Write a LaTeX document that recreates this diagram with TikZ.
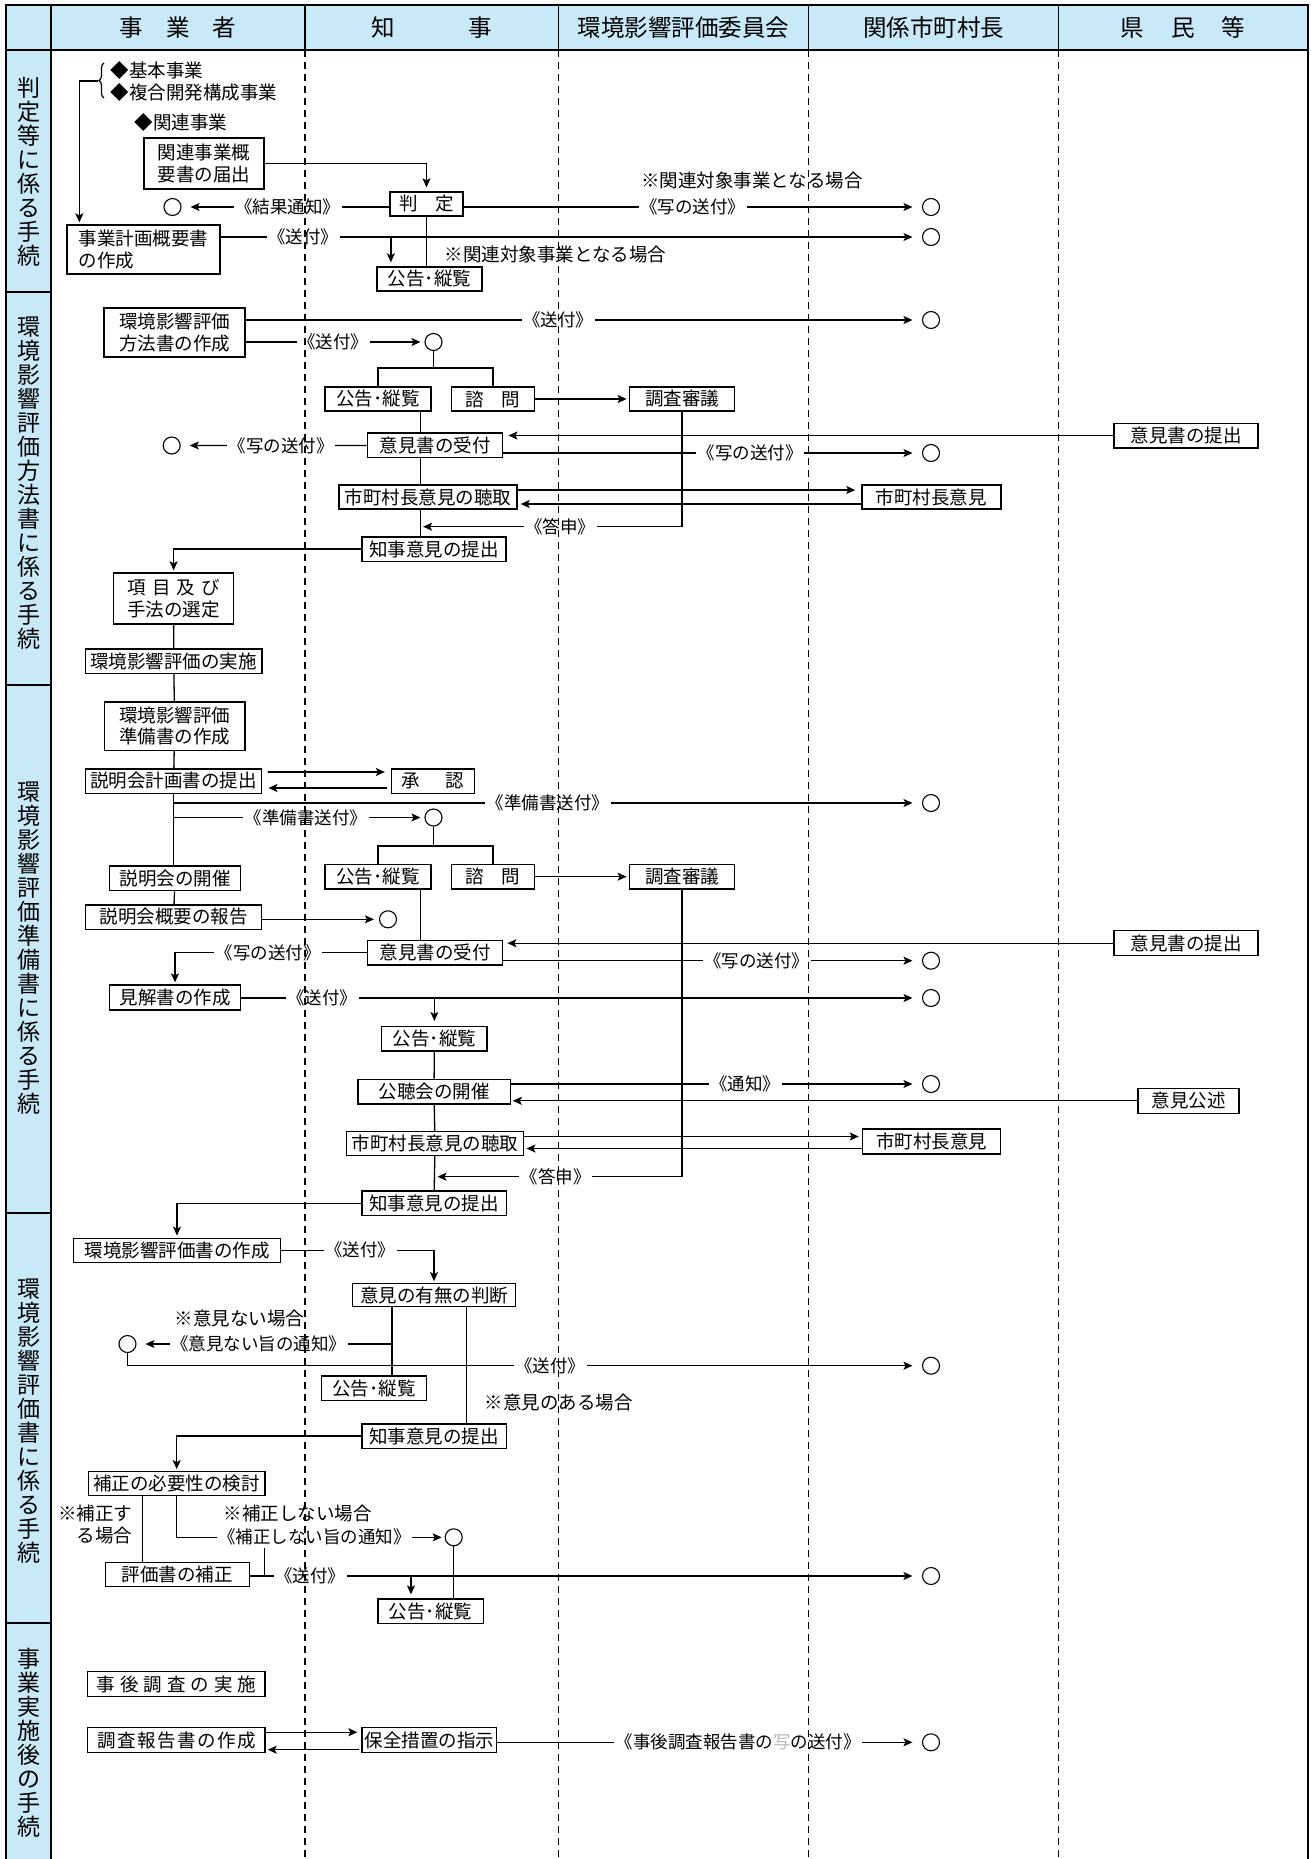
\documentclass[tikz,border=0pt]{standalone}
\usepackage{fontspec}
\setmainfont{Noto Sans CJK JP}
\usetikzlibrary{arrows.meta,calc,decorations.pathreplacing}
\definecolor{hdr}{RGB}{200,233,248}
\newcommand\hgap[1]{\hspace{#1pt}}
\begin{document}
\begin{tikzpicture}[x=1pt,y=-1pt,line width=1.3pt,
  bx/.style 2 args={draw,line width=1.3pt,fill=white,inner sep=0pt,align=center,
     font=\fontsize{18.5}{21.7}\selectfont,minimum width=#1pt,minimum height=#2pt},
  endc/.style={circle,draw,line width=1.1pt,minimum size=17pt,inner sep=0pt},
  arr/.style={-{Stealth[length=9pt,width=8pt,inset=2pt]},shorten >=#1},
  arr/.default=2pt,
  lbl/.style={fill=white,inner sep=1.5pt,font=\fontsize{17.5}{20}\selectfont},
  note/.style={inner sep=0pt,font=\fontsize{18.5}{22.5}\selectfont},
  hd/.style={inner sep=0pt,font=\fontsize{23.5}{26}\selectfont},
  side/.style={inner sep=0pt,align=center,font=\fontsize{23}{24}\selectfont},
]
\useasboundingbox (0,0) rectangle (1310,1859);
% ---------- frame ----------
\fill[hdr] (6,5) rectangle (1308,50);
\fill[hdr] (6,50) rectangle (51,1870);
\draw[line width=1.8pt] (6,1870) -- (6,5) -- (1308,5) -- (1308,1870);
\draw[line width=1.5pt] (6,50) -- (1308,50);
\draw[line width=1.5pt] (51,5) -- (51,1870);
\foreach \x in {305,558.5,808.5,1058.5} \draw[line width=1.3pt] (\x,5) -- (\x,50);
\foreach \y in {292,685,1213,1623} \draw[line width=1.5pt] (6,\y) -- (51,\y);
% header
\node[hd] (h1) at (178,27.5) {事\hgap{23}業\hgap{23}者};
\node[hd] (h2) at (431.5,27.5) {知\hgap{74}事};
\node[hd] (h3) at (683.5,27.5) {環境影響評価委員会};
\node[hd] (h4) at (933.5,27.5) {関係市町村長};
\node[hd] (h5) at (1183,27.5) {県\hgap{27}民\hgap{27}等};
% side labels
\node[side] (l1) at (28.5,172) {判\\定\\等\\に\\係\\る\\手\\続};
\node[side] (l2) at (28.5,483) {環\\境\\影\\響\\評\\価\\方\\法\\書\\に\\係\\る\\手\\続};
\node[side] (l3) at (28.5,948) {環\\境\\影\\響\\評\\価\\準\\備\\書\\に\\係\\る\\手\\続};
\node[side] (l4) at (28.5,1421) {環\\境\\影\\響\\評\\価\\書\\に\\係\\る\\手\\続};
\node[side] (l5) at (28.5,1743) {事\\業\\実\\施\\後\\の\\手\\続};

% ---------- section 1 ----------
\node[note,anchor=west] (n1a) at (110,70) {◆基本事業};
\node[note,anchor=west] (n1b) at (110,92) {◆複合開発構成事業};
\node[note,anchor=west] (n1c) at (134,122) {◆関連事業};
\node[bx={120}{51}] (b1a) at (204,163.5) {関連事業概\\要書の届出};
\node[bx={73}{24}] (hantei) at (426.5,204) {判\hgap{18}定};
\node[endc] (c1a) at (172.5,207) {};
\node[endc] (c1b) at (931,207) {};
\node[endc] (c1c) at (931,237) {};
\node[bx={153}{49},align=left] (b1b) at (143.5,249.5) {事業計画概要書\\の作成};
\node[bx={105}{24}] (k1) at (429.5,279) {公告･縦覧};
\node[note] (n1d) at (752,180) {※関連対象事業となる場合};
\node[note,anchor=west] (n1e) at (444,254) {※関連対象事業となる場合};

\draw[line width=1.2pt,decorate,decoration={brace,amplitude=5pt}] (104,98) -- (104,63);
\coordinate (bt) at (98,81);
\coordinate (b1bt) at ($(b1b.north west)+(13,0)$);
\draw[arr] (bt) -| (b1bt);
\draw[arr=4pt] (b1a.east) -| (hantei.north);
\draw[arr=9pt] (hantei.west |- c1a) -- node[lbl,pos=0.49]{《結果通知》} (c1a);
\draw[arr=9.5pt] (hantei.east |- c1b) -- node[lbl,pos=0.5]{《写の送付》} (c1b);
\draw[arr=9.5pt] (b1b.east |- c1c) -- node[lbl,pos=0.118]{《送付》} (c1c);
\coordinate (k1a) at ($(k1.north west)+(14.5,0)$);
\draw[arr=4pt] (k1a |- c1c) -- (k1a);
\draw (hantei.south) -- (hantei.south |- k1.north);

% ---------- section 2 ----------
\node[bx={141}{49}] (m1) at (174.5,332.5) {環境影響評価\\方法書の作成};
\node[endc] (c2a) at (931,320) {};
\node[endc] (c2b) at (433.5,342) {};
\node[bx={106}{24}] (k2) at (378,399) {公告･縦覧};
\node[bx={83.5}{24}] (s2) at (493,399) {諮\hgap{18}問};
\node[bx={105.5}{24}] (ch2) at (682,399) {調査審議};
\node[bx={135.6}{24.7}] (u2) at (435,445.4) {意見書の受付};
\node[bx={144}{24.7}] (ik2) at (1186,435.5) {意見書の提出};
\node[endc] (c2c) at (171.7,445.5) {};
\node[endc] (c2d) at (931,453) {};
\node[bx={178}{24}] (t2) at (428,497) {市町村長意見の聴取};
\node[bx={139}{24}] (mi2) at (931.4,497) {市町村長意見};
\node[bx={144}{24.3}] (tj2) at (434,549) {知事意見の提出};
\node[bx={120}{51}] (ko2) at (173.6,598.5) {項\hgap{6}目\hgap{6}及\hgap{6}び\\手法の選定};
\node[bx={176.6}{24.3}] (js2) at (173.7,661) {環境影響評価の実施};

\draw[arr=9.5pt] (m1.east |- c2a) -- node[lbl,pos=0.462]{《送付》} (c2a);
\draw[arr=4pt] (m1.east |- c2b) -- node[lbl,pos=0.49]{《送付》} (c2b);
\coordinate (f2) at (433.5,368);
\draw (c2b.south) -- (f2);
\draw (k2.north) |- (f2) -| (s2.north);
\draw[arr] (s2) -- (ch2);
\coordinate (v2) at ($(k2.south east)+(-11.4,0)$);
\draw (v2) -- (v2 |- u2.north);
\draw[arr=5pt] (ik2.west) -- (ik2.west -| u2.east);
\draw[arr=9pt] (u2.west) -- node[lbl,pos=0.46]{《写の送付》} (c2c);
\draw[arr=9.5pt] (u2.east |- c2d) -- node[lbl,pos=0.59]{《写の送付》} (c2d);
\draw (v2 |- u2.south) -- (v2 |- t2.north);
\coordinate (t2a) at ($(t2.east)+(0,-7)$);
\coordinate (t2b) at ($(t2.east)+(0,7)$);
\draw[arr=6pt] (t2a) -- (t2a -| mi2.west);
\draw[arr=3pt] (t2b -| mi2.west) -- (t2b);
\draw (v2 |- t2.south) -- (v2 |- tj2.north);
\coordinate (a2) at (419.6,526.7);
\draw[arr=3.5pt] (ch2.south) |- node[lbl,pos=0.732]{《答申》} (a2);
\draw[arr] (tj2.west) -| (ko2.north);
\draw (ko2) -- (js2);

% ---------- section 3 ----------
\node[bx={140.6}{48.3}] (j3) at (174.7,726) {環境影響評価\\準備書の作成};
\node[bx={176.4}{24.3}] (p3) at (173.6,781) {説明会計画書の提出};
\node[bx={83}{24.3}] (sh3) at (433,781) {承\hgap{26}認};
\node[endc] (c3a) at (931,803) {};
\node[endc] (c3b) at (433.5,817.5) {};
\node[bx={106}{24.7}] (k3) at (378,876.7) {公告･縦覧};
\node[bx={83.5}{24.7}] (s3) at (493,876.7) {諮\hgap{18}問};
\node[bx={105.5}{24.7}] (ch3) at (682,876.7) {調査審議};
\node[bx={131.6}{24.7}] (ka3) at (175,878.3) {説明会の開催};
\node[bx={176.4}{24.3}] (ho3) at (173.6,917) {説明会概要の報告};
\node[endc] (c3c) at (388,919.3) {};
\node[bx={135.6}{24.3}] (u3) at (435,952.8) {意見書の受付};
\node[bx={144}{25}] (ik3) at (1186,943.2) {意見書の提出};
\node[endc] (c3d) at (931,960.7) {};
\node[bx={131.6}{25}] (ke3) at (175,997.5) {見解書の作成};
\node[endc] (c3e) at (931,998) {};
\node[bx={105.3}{24.3}] (k3b) at (434.4,1038.8) {公告･縦覧};
\node[bx={152.3}{24.7}] (ko3) at (434,1091.7) {公聴会の開催};
\node[endc] (c3f) at (931,1084) {};
\node[bx={101}{25}] (is3) at (1188.5,1100.8) {意見公述};
\node[bx={177.6}{24}] (t3) at (435,1143.5) {市町村長意見の聴取};
\node[bx={138.4}{25}] (mi3) at (931.6,1141.5) {市町村長意見};
\node[bx={144.3}{24.7}] (tj3) at (434,1203.3) {知事意見の提出};

\draw (js2) -- (j3);
\draw (j3) -- (p3);
\coordinate (p3a) at ($(p3.east)+(0,-9)$);
\coordinate (p3b) at ($(p3.east)+(0,7)$);
\draw[arr=6pt,shorten <=6pt] (p3a) -- (p3a -| sh3.west);
\draw[arr=6pt,shorten <=4pt] (p3b -| sh3.west) -- (p3b);
\draw (p3.south) -- (p3.south |- ka3.north);
\draw[arr=9.5pt] (p3.south |- c3a) -- node[lbl,pos=0.5]{《準備書送付》} (c3a);
\draw[arr=4pt] (p3.south |- c3b) -- node[lbl,pos=0.527]{《準備書送付》} (c3b);
\coordinate (f3) at (433.5,846);
\draw (c3b.south) -- (f3);
\draw (k3.north) |- (f3) -| (s3.north);
\draw[arr] (s3) -- (ch3);
\draw (ka3) -- (ho3);
\draw[arr=5pt] (ho3.east |- c3c) -- (c3c);
\coordinate (v3) at ($(k3.south east)+(-11.4,0)$);
\draw (v3) -- (v3 |- u3.north);
\draw[arr=4pt] (ik3.west) -- (ik3.west -| u3.east);
\draw[arr=9.5pt] (u3.east |- c3d) -- node[lbl,pos=0.605]{《写の送付》} (c3d);
\draw[arr] (u3.west) -| node[lbl,pos=0.256]{《写の送付》} (ke3.north);
\draw[arr=9.5pt] (ke3.east |- c3e) -- node[lbl,pos=0.119]{《送付》} (c3e);
\draw[arr=5pt] (k3b.north |- c3e) -- (k3b.north);
\draw (k3b) -- (ko3);
\draw[arr=9.5pt] (ko3.east |- c3f) -- node[lbl,pos=0.57]{《通知》} (c3f);
\draw[arr=2pt] (is3.west) -- (is3.west -| ko3.east);
\draw (ko3) -- (t3);
\coordinate (t3a) at ($(t3.east)+(0,-7)$);
\coordinate (t3b) at ($(t3.east)+(0,5)$);
\draw[arr=3pt] (t3a) -- (t3a -| mi3.west);
\draw[arr=2pt] (t3b -| mi3.west) -- (t3b);
\draw (t3) -- (tj3);
\coordinate (a3) at (435.5,1176.7);
\draw[arr=2pt] (ch3.south) |- node[lbl,pos=0.756]{《答申》} (a3);

% ---------- section 4 ----------
\node[bx={207}{24}] (hs4) at (177,1250.3) {環境影響評価書の作成};
\node[bx={163.3}{23}] (yu4) at (434,1295.3) {意見の有無の判断};
\node[note] (n4a) at (239.5,1318) {※意見ない場合};
\node[endc] (c4a) at (127.5,1344) {};
\node[endc] (c4b) at (931,1365.7) {};
\node[bx={105.5}{24.7}] (kk4) at (374,1388.3) {公告･縦覧};
\node[note,anchor=west] (n4b) at (484,1402.3) {※意見のある場合};
\node[bx={144.3}{24.3}] (tj4) at (434,1436) {知事意見の提出};
\node[bx={176.8}{24}] (hk4) at (176.7,1483.7) {補正の必要性の検討};
\node[note,anchor=east,align=right] (n4c) at (133,1524.7) {※補正す\\る場合};
\node[note,anchor=west] (n4d) at (223,1513.3) {※補正しない場合};
\node[endc] (c4c) at (453.7,1537.3) {};
\node[bx={144.4}{24.4}] (hh4) at (177.4,1574.5) {評価書の補正};
\node[endc] (c4d) at (931,1576) {};
\node[bx={105.2}{24.3}] (kk4b) at (430.6,1611.2) {公告･縦覧};

\draw[arr] (tj3.west) -| (hs4.north);
\draw[arr] (hs4.east) -| node[lbl,pos=0.258]{《送付》} (yu4.north);
\coordinate (y4a) at ($(yu4.south west)+(40.4,0)$);
\coordinate (y4b) at ($(yu4.south west)+(114.9,0)$);
\draw (y4a) -- (y4a |- kk4.north);
\draw (y4b) -- (y4b |- tj4.north);
\draw[arr=9pt] (y4a |- c4a) -- node[lbl,pos=0.521]{《意見ない旨の通知》} (c4a);
\draw[arr=9.5pt] (c4a.south) |- node[lbl,pos=0.766]{《送付》} (c4b);
\draw[arr] (tj4.west) -| (hk4.north);
\coordinate (hk4a) at ($(hk4.south west)+(54.6,0)$);
\draw (hk4a) -- (hk4a |- hh4.north);
\draw[arr=3pt] (hk4.south) |- node[lbl,pos=0.757]{《補正しない旨の通知》} (c4c);
\draw (c4c.south) -- (c4c.south |- kk4b.north);
\draw[arr=9.5pt] (hh4.east |- c4d) -- node[lbl,pos=0.089]{《送付》} (c4d);
\coordinate (sv4) at (264.3,1548.3);
\draw (sv4) -- (sv4 |- c4d);
\coordinate (kk4ba) at ($(kk4b.north west)+(33.6,0)$);
\draw[arr=4pt] (kk4ba |- c4d) -- (kk4ba);

% ---------- section 5 ----------
\node[bx={177.5}{25}] (jg5) at (176.3,1684.2) {事\hgap{5}後\hgap{5}調\hgap{5}査\hgap{5}の\hgap{5}実\hgap{5}施};
\node[bx={177.5}{25}] (cr5) at (176.3,1740.2) {調\hgap{1.5}査\hgap{1.5}報\hgap{1.5}告\hgap{1.5}書\hgap{1.5}の\hgap{1.5}作\hgap{1.5}成};
\node[bx={134.6}{25}] (hz5) at (429.3,1740.2) {保全措置の指示};
\node[endc] (c5) at (931,1742.3) {};
\coordinate (cr5a) at ($(cr5.east)+(0,-8)$);
\coordinate (cr5b) at ($(cr5.east)+(0,9.5)$);
\draw[arr=4pt] (cr5a) -- (cr5a -| hz5.west);
\draw[arr=2pt,shorten <=2pt] (cr5b -| hz5.west) -- (cr5b);
\draw[arr=9.5pt] (hz5.east |- c5) -- node[lbl,pos=0.568]{《事後調査報告書の\textcolor{gray!55}{写}の送付》} (c5);

% ---------- dashed lane lines ----------
\foreach \x in {305,558.5,808.5,1058.5}
  \draw[line width=1.2pt,dash pattern=on 7pt off 5pt] (\x,50) -- (\x,1870);
\end{tikzpicture}
\end{document}
